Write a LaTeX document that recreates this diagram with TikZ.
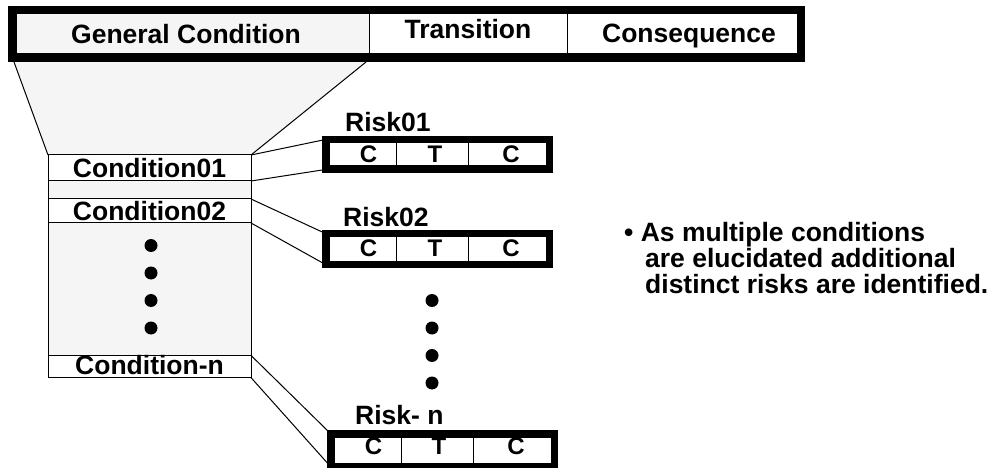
\documentclass[tikz,border=0pt]{standalone}
\usepackage{fontspec}
\setmainfont{Liberation Sans}
\pgfdeclarelayer{background}
\pgfsetlayers{background,main}
\definecolor{lgray}{RGB}{245,245,245}
\begin{document}
\begin{tikzpicture}[x=1pt,y=-1pt,
  font=\fontsize{26.5}{26}\selectfont\bfseries,
  thinline/.style={line width=1pt},
  thickframe/.style={draw, outer sep=0pt, inner sep=0pt},
  cellbox/.style={draw, line width=1pt, fill=white, inner sep=0pt, outer sep=0pt},
  ctc/.style={cellbox, font=\fontsize{24}{26}\selectfont\bfseries},
  lbl/.style={anchor=base west, inner sep=0pt},
  dotmark/.style={circle, fill=black, minimum size=13pt, inner sep=0pt}]
\useasboundingbox (0,0) rectangle (997,468);

% top bar
\node[cellbox, fill=lgray, minimum width=353pt, minimum height=40pt, text depth=1pt] (gc) at (192.5,34) {General Condition\hspace*{13pt}};
\node[cellbox, minimum width=198pt, minimum height=40pt, text depth=11pt] (trn) at (468,34) {Transition};
\node[cellbox, minimum width=230pt, minimum height=40pt, text depth=1pt] (cs) at (682,34) {\hspace*{14pt}Consequence};
\node[thickframe, line width=8pt, minimum width=789pt, minimum height=48pt] (top) at (406.5,34) {};
\coordinate (ftl) at (14,62);
\coordinate (ftr) at (366,62);

% conditions
\node[cellbox, minimum width=203pt, minimum height=26pt] (c1) at (149.5,168) {Condition01};
\node[cellbox, minimum width=203pt, minimum height=24pt, text depth=0pt] (c2) at (149.5,211) {Condition02};
\node[cellbox, minimum width=203pt, minimum height=21pt, text depth=3pt] (cn) at (149.5,366.5) {Condition-n};

\node[dotmark] (ld1) at (151,245.5) {};
\node[dotmark] (ld2) at (151,273) {};
\node[dotmark] (ld3) at (151,300.5) {};
\node[dotmark] (ld4) at (151,328) {};

% risk 01
\node[lbl] (l1) at (345,132) {Risk01};
\node[ctc, minimum width=67pt, minimum height=23pt, text depth=0.5pt] (r1a) at (362.5,154.5) {\hspace*{12pt}C};
\node[ctc, minimum width=72pt, minimum height=23pt, text depth=0.5pt] (r1b) at (432,154.5) {\hspace*{6pt}T};
\node[ctc, minimum width=78pt, minimum height=23pt, text depth=0.5pt] (r1c) at (507,154.5) {\hspace*{8pt}C};
\node[thickframe, line width=7pt, minimum width=224pt, minimum height=30pt] (r1) at (437.5,154.5) {};

% risk 02
\node[lbl] (l2) at (343,227) {Risk02};
\node[ctc, minimum width=67pt, minimum height=24pt, text depth=1.5pt] (r2a) at (362.5,249) {\hspace*{12pt}C};
\node[ctc, minimum width=72pt, minimum height=24pt, text depth=1.5pt] (r2b) at (432,249) {\hspace*{6pt}T};
\node[ctc, minimum width=78pt, minimum height=24pt, text depth=1.5pt] (r2c) at (507,249) {\hspace*{8pt}C};
\node[thickframe, line width=7pt, minimum width=224pt, minimum height=31pt] (r2) at (437.5,249) {};

\node[dotmark] (rd1) at (432,300.5) {};
\node[dotmark] (rd2) at (432,328) {};
\node[dotmark] (rd3) at (432,355.5) {};
\node[dotmark] (rd4) at (432,383) {};

% risk n
\node[lbl] (ln) at (355,424) {Risk- n};
\node[ctc, minimum width=67pt, minimum height=26pt, text depth=7.5pt] (rna) at (367.5,450) {\hspace*{12pt}C};
\node[ctc, minimum width=72pt, minimum height=26pt, text depth=7.5pt] (rnb) at (437,450) {\hspace*{4pt}T};
\node[ctc, minimum width=78pt, minimum height=26pt, text depth=7.5pt] (rnc) at (512,450) {\hspace*{8pt}C};
\node[thickframe, line width=7pt, minimum width=224pt, minimum height=33pt] (rn) at (442.5,450) {};

% note
\node[lbl, align=left] (note) at (624,294) {• As multiple conditions\\\hspace*{21pt}are elucidated additional\\\hspace*{21pt}distinct risks are identified.};

\begin{pgfonlayer}{background}
  \fill[lgray] (ftl) -- (ftr) -- (c1.north east) -- (c1.north west) -- cycle;
  \draw[thinline] (ftl) -- (c1.north west);
  \draw[thinline] (ftr) -- (c1.north east);
  \draw[thinline, fill=lgray] (c1.north west) rectangle (cn.south east);
  \draw[thinline] (c1.north east) -- (r1.north west);
  \draw[thinline] (c1.south east) -- (r1.south west);
  \draw[thinline] (c2.north east) -- (r2.north west);
  \draw[thinline] (c2.south east) -- (r2.south west);
  \draw[thinline] (cn.north east) -- (rn.north west);
  \draw[thinline] (cn.south east) -- (rn.south west);
\end{pgfonlayer}
\end{tikzpicture}
\end{document}
